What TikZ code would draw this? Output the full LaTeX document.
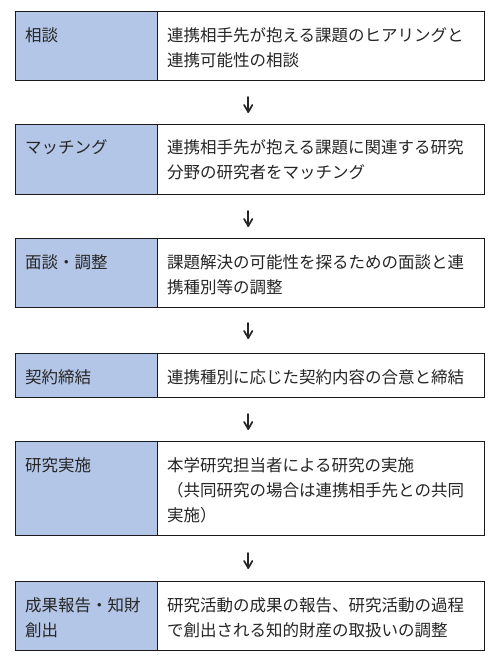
\documentclass[tikz,border=0pt]{standalone}
\usepackage{fontspec}
\setmainfont{Noto Sans CJK JP}
\definecolor{cellblue}{HTML}{B4C6E7}
\definecolor{txtgray}{HTML}{262626}
\definecolor{linegray}{HTML}{1A1A1A}
\newcommand{\downarr}[2]{%
  \node[arr] (#1) at (248.3,#2) {};
  \draw[arrline] (#1.north) -- (#1.south);
  \draw[arrline] (#1.south west) ++(0,-7) -- (#1.south) -- ++(4,-7);
}
\begin{document}
\begin{tikzpicture}[x=1pt,y=-1pt,
  lcell/.style={draw=linegray,line width=1.2pt,fill=cellblue,inner sep=0pt,minimum width=142pt,anchor=north west},
  rcell/.style={draw=linegray,line width=1.2pt,fill=white,inner sep=0pt,minimum width=327pt,anchor=north west},
  txt/.style={text=txtgray,inner sep=0pt,anchor=north west,align=left,font={\fontsize{16.5}{25}\selectfont}},
  arr/.style={inner sep=0pt,minimum width=8pt,minimum height=14.5pt},
  arrline/.style={draw=txtgray,line width=1.7pt,line cap=round,line join=round}]
\useasboundingbox[fill=white] (0,0) rectangle (500,664);
% box 1
\node[lcell,minimum height=69pt] (l1) at (15,11) {};
\node[rcell,minimum height=69pt] (r1) at (157,11) {};
\node[txt] (lt1) at (25,23.3) {\strut 相談};
\node[txt] (rt1) at (167,23.3) {\strut 連携相手先が抱える課題のヒアリングと\\連携可能性の相談};
\downarr{a1}{104.5}
% box 2
\node[lcell,minimum height=70pt] (l2) at (15,123.5) {};
\node[rcell,minimum height=70pt] (r2) at (157,123.5) {};
\node[txt] (lt2) at (25,135.8) {\strut マッチング};
\node[txt] (rt2) at (167,135.8) {\strut 連携相手先が抱える課題に関連する研究\\分野の研究者をマッチング};
\downarr{a2}{218.5}
% box 3
\node[lcell,minimum height=69pt] (l3) at (15,238) {};
\node[rcell,minimum height=69pt] (r3) at (157,238) {};
\node[txt] (lt3) at (25,250.3) {\strut 面談・調整};
\node[txt] (rt3) at (167,250.3) {\strut 課題解決の可能性を探るための面談と連\\携種別等の調整};
\downarr{a3}{330.5}
% box 4
\node[lcell,minimum height=44pt] (l4) at (15,353) {};
\node[rcell,minimum height=44pt] (r4) at (157,353) {};
\node[txt] (lt4) at (25,365.3) {\strut 契約締結};
\node[txt] (rt4) at (167,365.3) {\strut 連携種別に応じた契約内容の合意と締結};
\downarr{a4}{421.5}
% box 5
\node[lcell,minimum height=94pt] (l5) at (15,441) {};
\node[rcell,minimum height=94pt] (r5) at (157,441) {};
\node[txt] (lt5) at (25,453.3) {\strut 研究実施};
\node[txt] (rt5) at (167,453.3) {\strut 本学研究担当者による研究の実施\\（共同研究の場合は連携相手先との共同\\実施）};
\downarr{a5}{560.5}
% box 6
\node[lcell,minimum height=69pt] (l6) at (15,581) {};
\node[rcell,minimum height=69pt] (r6) at (157,581) {};
\node[txt] (lt6) at (25,593.3) {\strut 成果報告・知財\\創出};
\node[txt] (rt6) at (167,593.3) {\strut 研究活動の成果の報告、研究活動の過程\\で創出される知的財産の取扱いの調整};
\end{tikzpicture}
\end{document}
